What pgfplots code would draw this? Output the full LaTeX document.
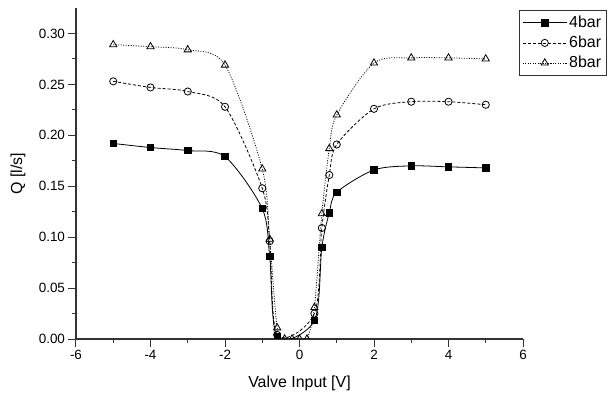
\documentclass[border=0pt]{standalone}
\usepackage{fontspec}
\setmainfont{Liberation Sans}
\usepackage{pgfplots}
\pgfplotsset{compat=1.18}
\definecolor{axgray}{HTML}{333333}
\begin{document}
\begin{tikzpicture}
\begin{axis}[
  name=a,
  scale only axis,
  width=447bp, height=331bp,
  xmin=-6, xmax=6, ymin=0, ymax=0.325,
  axis x line*=bottom, axis y line*=left,
  axis line style={axgray, line width=1.2bp},
  xtick={-6,-4,...,6},
  ytick={0,0.05,0.10,0.15,0.20,0.25,0.30},
  minor x tick num=1, minor y tick num=1,
  tick align=outside,
  major tick length=7.5bp, minor tick length=4bp,
  every tick/.style={axgray, line width=1bp},
  /pgf/number format/assume math mode=true,
  yticklabel style={/pgf/number format/fixed, /pgf/number format/fixed zerofill, /pgf/number format/precision=2},
  tick label style={font=\fontsize{13.5}{15}\selectfont},
  label style={font=\fontsize{16}{18}\selectfont},
  xlabel={Valve Input [V]},
  ylabel={Q [l/s]},
  xlabel style={at={(axis description cs:0.5,0)}, anchor=center, yshift=-44bp},
  ylabel style={at={(axis description cs:0,0.5)}, anchor=center, yshift=58bp},
  clip marker paths=true,
  legend style={at={(0.991,0.994)}, anchor=north west, draw=axgray, line width=0.8bp,
    font=\fontsize{16}{18}\selectfont, inner xsep=3bp, inner ysep=4bp, row sep=3bp,
    /tikz/every even column/.append style={column sep=4bp}},
  legend cell align=left,
  legend image code/.code={\draw[mark repeat=2,mark phase=2,#1] plot coordinates {(0bp,0bp) (22bp,0bp) (44bp,0bp)};},
]
\addplot[black, line width=0.8bp, smooth, tension=0.5, mark=square*, mark size=3.2bp, mark options={solid, fill=black}] coordinates {
(-5,0.192) (-4,0.188) (-3,0.185) (-2,0.179) (-1,0.128) (-0.8,0.081) (-0.6,0.002)
(0.4,0.018) (0.6,0.090) (0.8,0.124) (1,0.144) (2,0.166) (3,0.170) (4,0.169) (5,0.168)};
\addlegendentry{4bar}
\addplot[black, line width=0.8bp, smooth, tension=0.5, dash pattern=on 3bp off 2bp, mark=o, mark size=3.6bp, mark options={solid, fill=white}] coordinates {
(-5,0.253) (-4,0.247) (-3,0.243) (-2,0.228) (-1,0.148) (-0.8,0.096) (-0.6,0.004)
(0.4,0.025) (0.6,0.109) (0.8,0.161) (1,0.191) (2,0.226) (3,0.233) (4,0.233) (5,0.230)};
\addlegendentry{6bar}
\addplot[black, line width=0.8bp, smooth, tension=0.5, dash pattern=on 1bp off 1.5bp, mark=triangle, mark size=4.2bp, mark options={solid, fill=white}] coordinates {
(-5,0.289) (-4,0.287) (-3,0.284) (-2,0.269) (-1,0.167) (-0.8,0.098) (-0.6,0.011)
(-0.4,0) (-0.2,0) (0,0) (0.2,0)
(0.4,0.031) (0.6,0.123) (0.8,0.187) (1,0.220) (2,0.271) (3,0.276) (4,0.276) (5,0.275)};
\addlegendentry{8bar}
\end{axis}
\pgfresetboundingbox
\path (a.south west) ++(-76bp,-57bp) rectangle ++(612bp,396bp);
\end{tikzpicture}
\end{document}
